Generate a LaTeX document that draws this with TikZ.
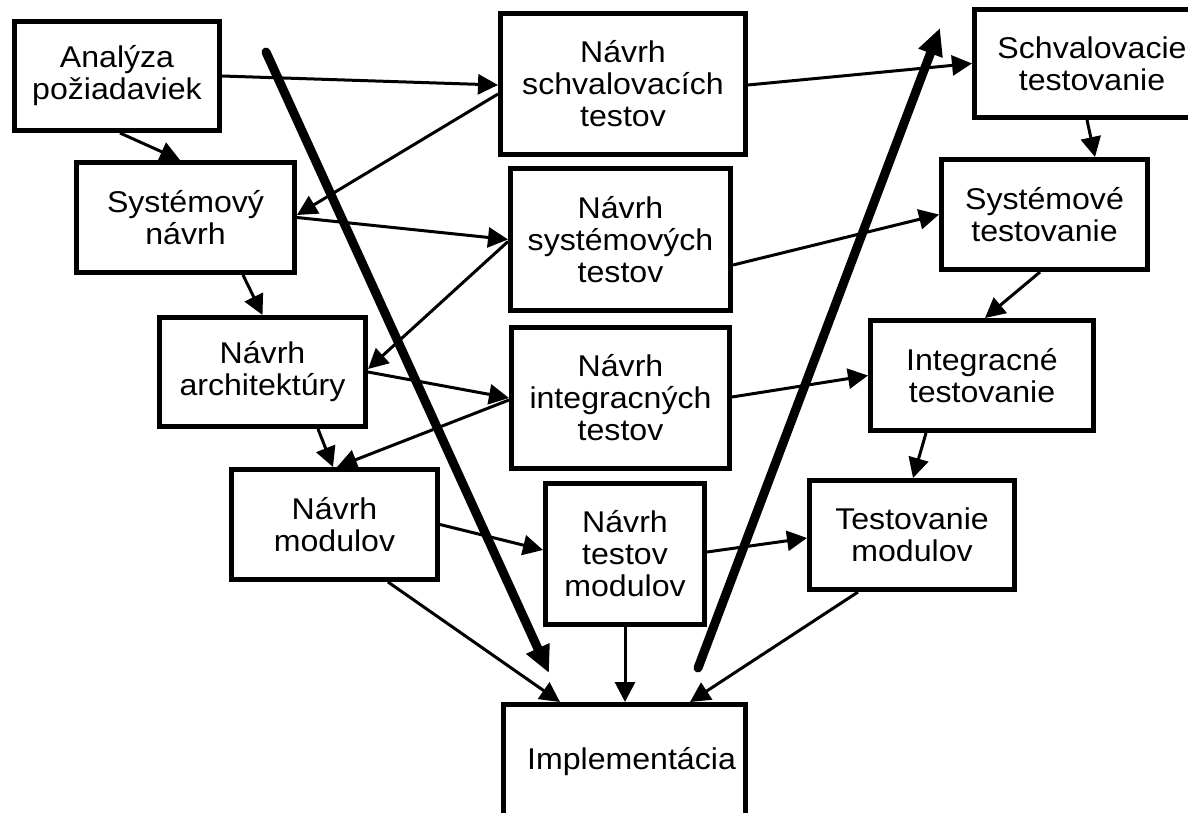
\documentclass[tikz,border=0pt]{standalone}
\usepackage{fontspec}
\setmainfont{Liberation Sans}[FakeStretch=1.07]
\usetikzlibrary{arrows.meta}

\begin{document}
\begin{tikzpicture}[x=1pt,y=-1pt,
  box/.style={draw, line width=5pt, fill=white, inner sep=0pt, align=center,
              font=\fontsize{30}{32}\selectfont},
  link/.style={line width=3pt, -{Triangle[length=20pt,width=20pt]}},
  flow/.style={line width=9pt, line cap=round, -{Triangle[length=27pt,width=24pt]}}]
\useasboundingbox (0,0) rectangle (1188,813);

% left column: design stages
\node[box, minimum width=205pt, minimum height=109pt] (ana)  at (117,76)      {Analýza\\požiadaviek};
\node[box, minimum width=218pt, minimum height=110pt] (sys)  at (185.5,217.5) {Systémový\\návrh};
\node[box, minimum width=206pt, minimum height=109pt] (arch) at (262.5,372)   {Návrh\\architektúry};
\node[box, minimum width=206pt, minimum height=110pt] (mod)  at (334.5,524.5) {Návrh\\modulov};

% middle column: test design
\node[box, minimum width=245pt, minimum height=141pt] (nst) at (623,84)      {Návrh\\schvalovacích\\testov};
\node[box, minimum width=220pt, minimum height=142pt] (nsy) at (620.5,239.5) {Návrh\\systémových\\testov};
\node[box, minimum width=218pt, minimum height=141pt] (nin) at (620.5,398)   {Návrh\\integracných\\testov};
\node[box, minimum width=159pt, minimum height=141pt] (ntm) at (625,554)     {Návrh\\testov\\modulov};

% right column: testing stages
\node[box, minimum width=235pt, minimum height=108pt] (sch) at (1092,63.5)   {Schvalovacie\\testovanie};
\node[box, minimum width=206pt, minimum height=110pt] (syt) at (1044.5,214.5) {Systémové\\testovanie};
\node[box, minimum width=223pt, minimum height=110pt] (int) at (982,375.5)   {Integracné\\testovanie};
\node[box, minimum width=205pt, minimum height=109pt] (tmo) at (912,535)     {Testovanie\\modulov};

% bottom
\node[box, minimum width=242pt, minimum height=115pt] (imp) at (624.5,762) {\hspace*{14pt}Implementácia};

% descending design chain
\draw[link] ([xshift=3pt]ana.south)    -- ([xshift=-5.5pt]sys.north);
\draw[link] ([xshift=57.5pt]sys.south) -- (arch.north);
\draw[link] ([xshift=55.5pt]arch.south) -- ([xshift=-1.5pt]mod.north);

% design -> test design
\draw[link] (ana.east) -- ([yshift=-1pt]nst.west);
\draw[link] (sys.east) -- (nsy.west);
\draw[link] (arch.east) -- (nin.west);
\draw[link] (mod.east) -- ([yshift=4pt]ntm.west);

% test design -> next design stage
\draw[link] ([yshift=-10pt]nst.west) -- ([yshift=2.5pt]sys.east);
\draw[link] ([yshift=-2pt]nsy.west)  -- ([yshift=3pt]arch.east);
\draw[link] ([yshift=-2pt]nin.west)  -- ([xshift=2.5pt]mod.north);

% test design -> testing
\draw[link] ([yshift=-1pt]nst.east)    -- (sch.west);
\draw[link] ([yshift=-25.5pt]nsy.east) -- (syt.west);
\draw[link] ([yshift=1pt]nin.east)     -- (int.west);
\draw[link] ([yshift=2pt]ntm.east)     -- ([yshift=-3pt]tmo.west);

% ascending testing chain
\draw[link] ([xshift=-5pt]sch.south) -- ([xshift=50.5pt]syt.north);
\draw[link] ([xshift=-4.5pt]syt.south) -- ([xshift=3pt]int.north);
\draw[link] ([xshift=-56pt]int.south) -- ([xshift=1pt]tmo.north);

% into implementation
\draw[link] ([xshift=53.5pt]mod.south) -- ([xshift=-64.5pt]imp.north);
\draw[link] (ntm.south) -- ([xshift=0.5pt]imp.north);
\draw[link] ([xshift=-54pt]tmo.south) -- ([xshift=65.5pt]imp.north);

% overall V-flow
\coordinate (downA) at (266,52);
\coordinate (downB) at (549,673);
\coordinate (upA)   at (698,668);
\coordinate (upB)   at (940,28);
\draw[flow] (downA) -- (downB);
\draw[flow] (upA) -- (upB);
\end{tikzpicture}
\end{document}
